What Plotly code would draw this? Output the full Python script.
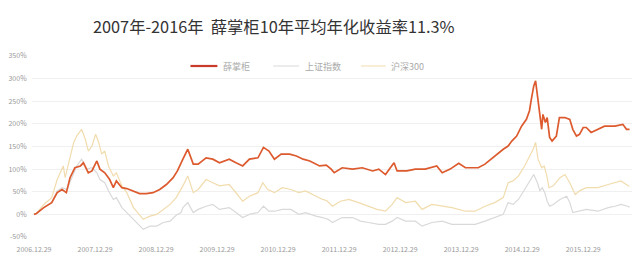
import plotly.graph_objects as go

# x values: years since 2006-12-29 ; y values: cumulative return in %
xue_t = [0, 0.04, 0.16, 0.29, 0.38, 0.46, 0.53, 0.59, 0.67, 0.76, 0.81, 0.89, 0.95, 1.03, 1.08, 1.16,
         1.24, 1.30, 1.35, 1.44, 1.52, 1.63, 1.73, 1.84, 1.95, 2.06, 2.17, 2.28, 2.35, 2.44, 2.52, 2.61,
         2.69, 2.82, 2.93, 3.04, 3.20, 3.31, 3.42, 3.53, 3.67, 3.76, 3.85, 3.94, 4.05, 4.19, 4.30, 4.41,
         4.52, 4.68, 4.79, 4.87, 4.92, 5.05, 5.22, 5.38, 5.55, 5.65, 5.76, 5.84, 5.90, 5.95, 6.11, 6.25,
         6.41, 6.60, 6.69, 6.82, 6.96, 7.07, 7.17, 7.28, 7.39, 7.55, 7.69, 7.77, 7.83, 7.91, 7.99, 8.07,
         8.12, 8.15, 8.19, 8.22, 8.25, 8.29, 8.32, 8.34, 8.38, 8.41, 8.45, 8.49, 8.56, 8.61, 8.70, 8.78,
         8.83, 8.89, 8.94, 9.00, 9.05, 9.13, 9.24, 9.35, 9.52, 9.65, 9.71, 9.76]
xue_v = [0, 2, 15, 26, 48, 55, 48, 81, 103, 107, 114, 92, 96, 118, 100, 92,
         77, 59, 74, 59, 57, 52, 46, 46, 48, 55, 66, 81, 96, 122, 144, 111,
         111, 125, 122, 114, 122, 114, 107, 122, 125, 148, 140, 122, 133, 133, 129, 122,
         118, 107, 109, 100, 92, 103, 100, 103, 96, 100, 88, 103, 114, 96, 96, 100,
         100, 107, 92, 100, 113, 103, 103, 103, 111, 129, 144, 151, 162, 173, 195, 210,
         229, 254, 284, 295, 262, 210, 188, 221, 203, 214, 170, 162, 173, 214, 214, 210,
         188, 173, 177, 192, 192, 181, 188, 195, 195, 199, 188, 188]

sz_t = [0, 0.04, 0.16, 0.29, 0.38, 0.46, 0.54, 0.62, 0.70, 0.78, 0.86, 0.95, 1.03, 1.08, 1.16, 1.22,
        1.30, 1.35, 1.44, 1.52, 1.63, 1.73, 1.79, 1.90, 2.01, 2.12, 2.23, 2.33, 2.41, 2.44, 2.52, 2.61,
        2.69, 2.82, 2.93, 3.04, 3.20, 3.31, 3.42, 3.53, 3.67, 3.76, 3.85, 3.94, 4.07, 4.21, 4.34, 4.45,
        4.62, 4.73, 4.82, 4.89, 5.05, 5.22, 5.35, 5.48, 5.65, 5.76, 5.87, 5.95, 6.09, 6.25, 6.36, 6.52,
        6.69, 6.85, 7.07, 7.23, 7.39, 7.55, 7.69, 7.77, 7.85, 7.94, 8.04, 8.12, 8.19, 8.25, 8.29, 8.33,
        8.37, 8.41, 8.45, 8.51, 8.62, 8.73, 8.78, 8.83, 8.92, 9.05, 9.24, 9.41, 9.52, 9.62, 9.73, 9.76]
sz_v = [0, 2, 15, 26, 52, 59, 55, 81, 107, 122, 100, 103, 92, 77, 70, 52,
        33, 37, 15, 4, -11, -26, -33, -26, -26, -18, -15, -2, 4, 15, 26, 4,
        11, 18, 22, 11, 15, 4, -7, 0, 4, 18, 7, 7, 11, 11, 0, 4,
        -4, -7, -11, -18, -7, -7, -15, -18, -22, -22, -15, -7, -15, -15, -26, -18,
        -15, -22, -22, -22, -15, -7, 0, 26, 22, 33, 55, 74, 88, 70, 52, 59,
        48, 29, 18, 22, 33, 40, 26, 4, 7, 11, 7, 15, 18, 22, 18, 16]

hs_t = [0, 0.04, 0.16, 0.29, 0.38, 0.46, 0.48, 0.51, 0.59, 0.65, 0.70, 0.78, 0.84, 0.89, 0.95, 1.01,
        1.06, 1.11, 1.16, 1.22, 1.30, 1.35, 1.44, 1.52, 1.63, 1.73, 1.79, 1.90, 2.01, 2.12, 2.23, 2.33,
        2.41, 2.44, 2.52, 2.61, 2.69, 2.82, 2.93, 3.04, 3.20, 3.31, 3.42, 3.53, 3.67, 3.75, 3.83, 3.94,
        4.07, 4.21, 4.34, 4.45, 4.62, 4.73, 4.80, 4.89, 5.02, 5.16, 5.32, 5.48, 5.62, 5.76, 5.87, 5.95,
        6.09, 6.25, 6.36, 6.52, 6.69, 6.85, 7.07, 7.23, 7.39, 7.55, 7.69, 7.77, 7.85, 7.94, 8.04, 8.12,
        8.18, 8.22, 8.26, 8.32, 8.36, 8.40, 8.44, 8.51, 8.62, 8.70, 8.78, 8.87, 8.94, 9.05, 9.24, 9.41,
        9.62, 9.73, 9.76]
hs_v = [0, 2, 22, 37, 77, 100, 107, 81, 122, 159, 173, 188, 166, 140, 151, 177,
        159, 133, 140, 107, 85, 92, 63, 48, 15, 0, -11, -4, 0, 11, 22, 37,
        55, 63, 85, 48, 55, 77, 70, 63, 66, 48, 29, 40, 48, 70, 55, 48,
        59, 55, 48, 52, 40, 33, 30, 18, 29, 33, 26, 18, 11, 7, 22, 37,
        26, 29, 11, 22, 18, 15, 7, 7, 18, 26, 37, 70, 74, 85, 107, 129,
        144, 159, 122, 103, 107, 88, 59, 63, 81, 88, 70, 44, 52, 59, 59, 66,
        74, 64, 62]

tick_vals = list(range(10))
tick_text = ["2006.12.29", "2007.12.29", "2008.12.29", "2009.12.29", "2010.12.29",
             "2011.12.29", "2012.12.29", "2013.12.29", "2014.12.29", "2015.12.29"]
y_ticks = [-50, 0, 50, 100, 150, 200, 250, 300, 350]
y_text = ["-50%", "0%", "50%", "100%", "150%", "200%", "250%", "300%", "350%"]

names = ["薛掌柜", "上证指数", "沪深300"]
colors = ["#dc5a2e", "#d9d9d9", "#f1dcad"]
title = "2007年-2016年\u00a0\u00a0薛掌柜10年平均年化收益率11.3%"

FONT = "Noto Sans CJK SC, Liberation Sans, sans-serif"

fig = go.Figure()
fig.add_trace(go.Scatter(x=hs_t, y=hs_v, mode="lines", name=names[2],
                         line=dict(color=colors[2], width=1.2), showlegend=False))
fig.add_trace(go.Scatter(x=sz_t, y=sz_v, mode="lines", name=names[1],
                         line=dict(color=colors[1], width=1.2), showlegend=False))
fig.add_trace(go.Scatter(x=xue_t, y=xue_v, mode="lines", name=names[0],
                         line=dict(color=colors[0], width=1.7), showlegend=False))

W, H = 640, 265
L, R, T, B = 30, 8, 56, 28
pw = W - L - R
ph = H - T - B


def px(x):
    return (x - L) / pw


def py(y):
    return (H - B - y) / ph


shapes = []
annotations = []
leg = [(189, 216, 220, 2.2), (272, 298, 302, 1), (360, 385, 388, 1)]
for (x0, x1, xt, w), nm, c in zip(leg, names, colors):
    lc = "#c83a2a" if w > 1.5 else c
    shapes.append(dict(type="line", xref="paper", yref="paper", x0=px(x0), x1=px(x1),
                       y0=py(66), y1=py(66), line=dict(color=lc, width=w)))
    annotations.append(dict(text=nm, xref="paper", yref="paper", x=px(xt), y=py(66),
                            xanchor="left", yanchor="middle", showarrow=False,
                            font=dict(size=9, color="#aaaaaa", family=FONT)))
annotations.append(dict(text=title, xref="paper", yref="paper", x=px(273), y=py(26),
                        xanchor="center", yanchor="middle", showarrow=False,
                        font=dict(size=16.3, color="#333333", family=FONT)))

fig.update_layout(
    width=W, height=H,
    margin=dict(l=L, r=R, t=T, b=B, pad=0),
    paper_bgcolor="white", plot_bgcolor="white",
    shapes=shapes, annotations=annotations,
    font=dict(family=FONT, color="#999999", size=7),
    xaxis=dict(range=[-0.033, 9.80], tickmode="array", tickvals=tick_vals, ticktext=tick_text,
               showgrid=False, zeroline=False, showline=False,
               ticks="outside", ticklen=6, tickcolor="rgba(0,0,0,0)",
               tickfont=dict(size=7, color="#999999")),
    yaxis=dict(range=[-50, 350], tickmode="array", tickvals=y_ticks, ticktext=y_text,
               showgrid=True, gridcolor="#f0f0f0", gridwidth=1, zeroline=False, showline=False,
               ticks="outside", ticklen=3, tickcolor="rgba(0,0,0,0)",
               tickfont=dict(size=7, color="#999999")),
)

fig.write_html("out.html")
